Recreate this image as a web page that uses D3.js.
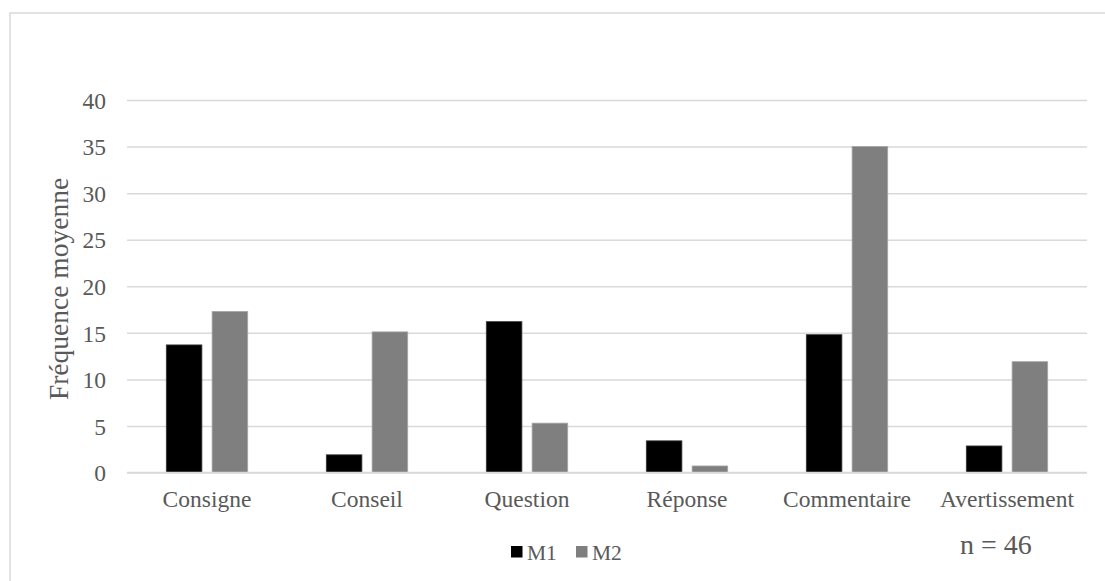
<!DOCTYPE html>
<html>
<head>
<meta charset="utf-8">
<script src="https://cdn.jsdelivr.net/npm/d3@7"></script>
<style>
  html, body { margin: 0; padding: 0; background: #fff; }
  svg { display: block; }
  text { font-family: "Liberation Serif", "Times New Roman", serif; fill: #595959; }
</style>
</head>
<body>
<svg id="chart" width="1105" height="581"></svg>
<script>
const categories = ["Consigne", "Conseil", "Question", "Réponse", "Commentaire", "Avertissement"];
const seriesNames = ["M1", "M2"];
const m1Values = [13.7, 1.9, 16.2, 3.4, 14.8, 2.85];
const m2Values = [17.3, 15.1, 5.3, 0.7, 35.0, 11.9];
const yTicks = [0, 5, 10, 15, 20, 25, 30, 35, 40];
const yTitle = "Fréquence moyenne";
const note = "n = 46";

const colors = { M1: "#000000", M2: "#7f7f7f" };
const strokes = { M1: "#3a3a3a", M2: "#a6a6a6" };

const svg = d3.select("#chart");

// outer chart border (only top & left visible in the crop)
svg.append("rect")
  .attr("x", 10).attr("y", 13)
  .attr("width", 1120).attr("height", 600)
  .attr("fill", "none").attr("stroke", "#d9d9d9").attr("stroke-width", 1.5);

const plot = { left: 127, right: 1087, top: 100, bottom: 472.5 };

const y = d3.scaleLinear().domain([0, 40]).range([plot.bottom, plot.top]);
const x0 = d3.scaleBand().domain(categories).range([plot.left, plot.right]).padding(0);
const half = 40.7;
const x1 = d3.scaleBand().domain(seriesNames)
  .range([x0.bandwidth() / 2 - half, x0.bandwidth() / 2 + half])
  .paddingInner(0.223).paddingOuter(0);

// gridlines
const yAxis = d3.axisLeft(y).tickValues(yTicks).tickSize(-(plot.right - plot.left)).tickPadding(21);
const gy = svg.append("g").attr("transform", `translate(${plot.left},0)`).call(yAxis);
gy.select(".domain").remove();
gy.selectAll(".tick line").attr("stroke", "#d9d9d9").attr("stroke-width", 1.5);
gy.selectAll(".tick text")
  .attr("fill", "#595959")
  .style("font-family", '"Liberation Serif", serif')
  .style("font-size", "23.5px")
  .attr("dy", "0.35em");

// bars
const data = categories.map((c, i) => ({ cat: c, M1: m1Values[i], M2: m2Values[i] }));
const groups = svg.append("g").selectAll("g").data(data).join("g")
  .attr("transform", d => `translate(${x0(d.cat)},0)`);
groups.selectAll("rect")
  .data(d => seriesNames.map(k => ({ key: k, value: d[k] })))
  .join("rect")
  .attr("x", d => x1(d.key))
  .attr("width", x1.bandwidth())
  .attr("y", d => y(d.value))
  .attr("height", d => y(0) - y(d.value))
  .attr("fill", d => colors[d.key])
  .attr("stroke", d => strokes[d.key])
  .attr("stroke-width", 0.8);

// baseline
svg.append("line")
  .attr("x1", plot.left).attr("x2", plot.right)
  .attr("y1", y(0)).attr("y2", y(0))
  .attr("stroke", "#d9d9d9").attr("stroke-width", 1.5);

// category labels
const xAxis = d3.axisBottom(x0).tickSize(0).tickPadding(0);
const gx = svg.append("g").attr("transform", `translate(0,${plot.bottom})`).call(xAxis);
gx.select(".domain").remove();
gx.selectAll(".tick text")
  .attr("fill", "#595959")
  .attr("y", 34.5).attr("dy", 0)
  .style("font-family", '"Liberation Serif", serif')
  .style("font-size", "23.5px");

// y title
svg.append("text")
  .attr("transform", `translate(68,289) rotate(-90)`)
  .attr("text-anchor", "middle")
  .style("font-size", "27.5px")
  .text(yTitle);

// legend
const legend = svg.append("g");
const legendItems = [
  { key: "M1", x: 511 },
  { key: "M2", x: 576 }
];
legendItems.forEach(it => {
  legend.append("rect")
    .attr("x", it.x).attr("y", 546)
    .attr("width", 11.5).attr("height", 11.5)
    .attr("fill", colors[it.key]);
  legend.append("text")
    .attr("x", it.x + 16).attr("y", 560)
    .style("font-size", "21.5px")
    .text(it.key);
});

// note
svg.append("text")
  .attr("x", 960).attr("y", 554)
  .style("font-size", "28px")
  .text(note);
</script>
</body>
</html>
